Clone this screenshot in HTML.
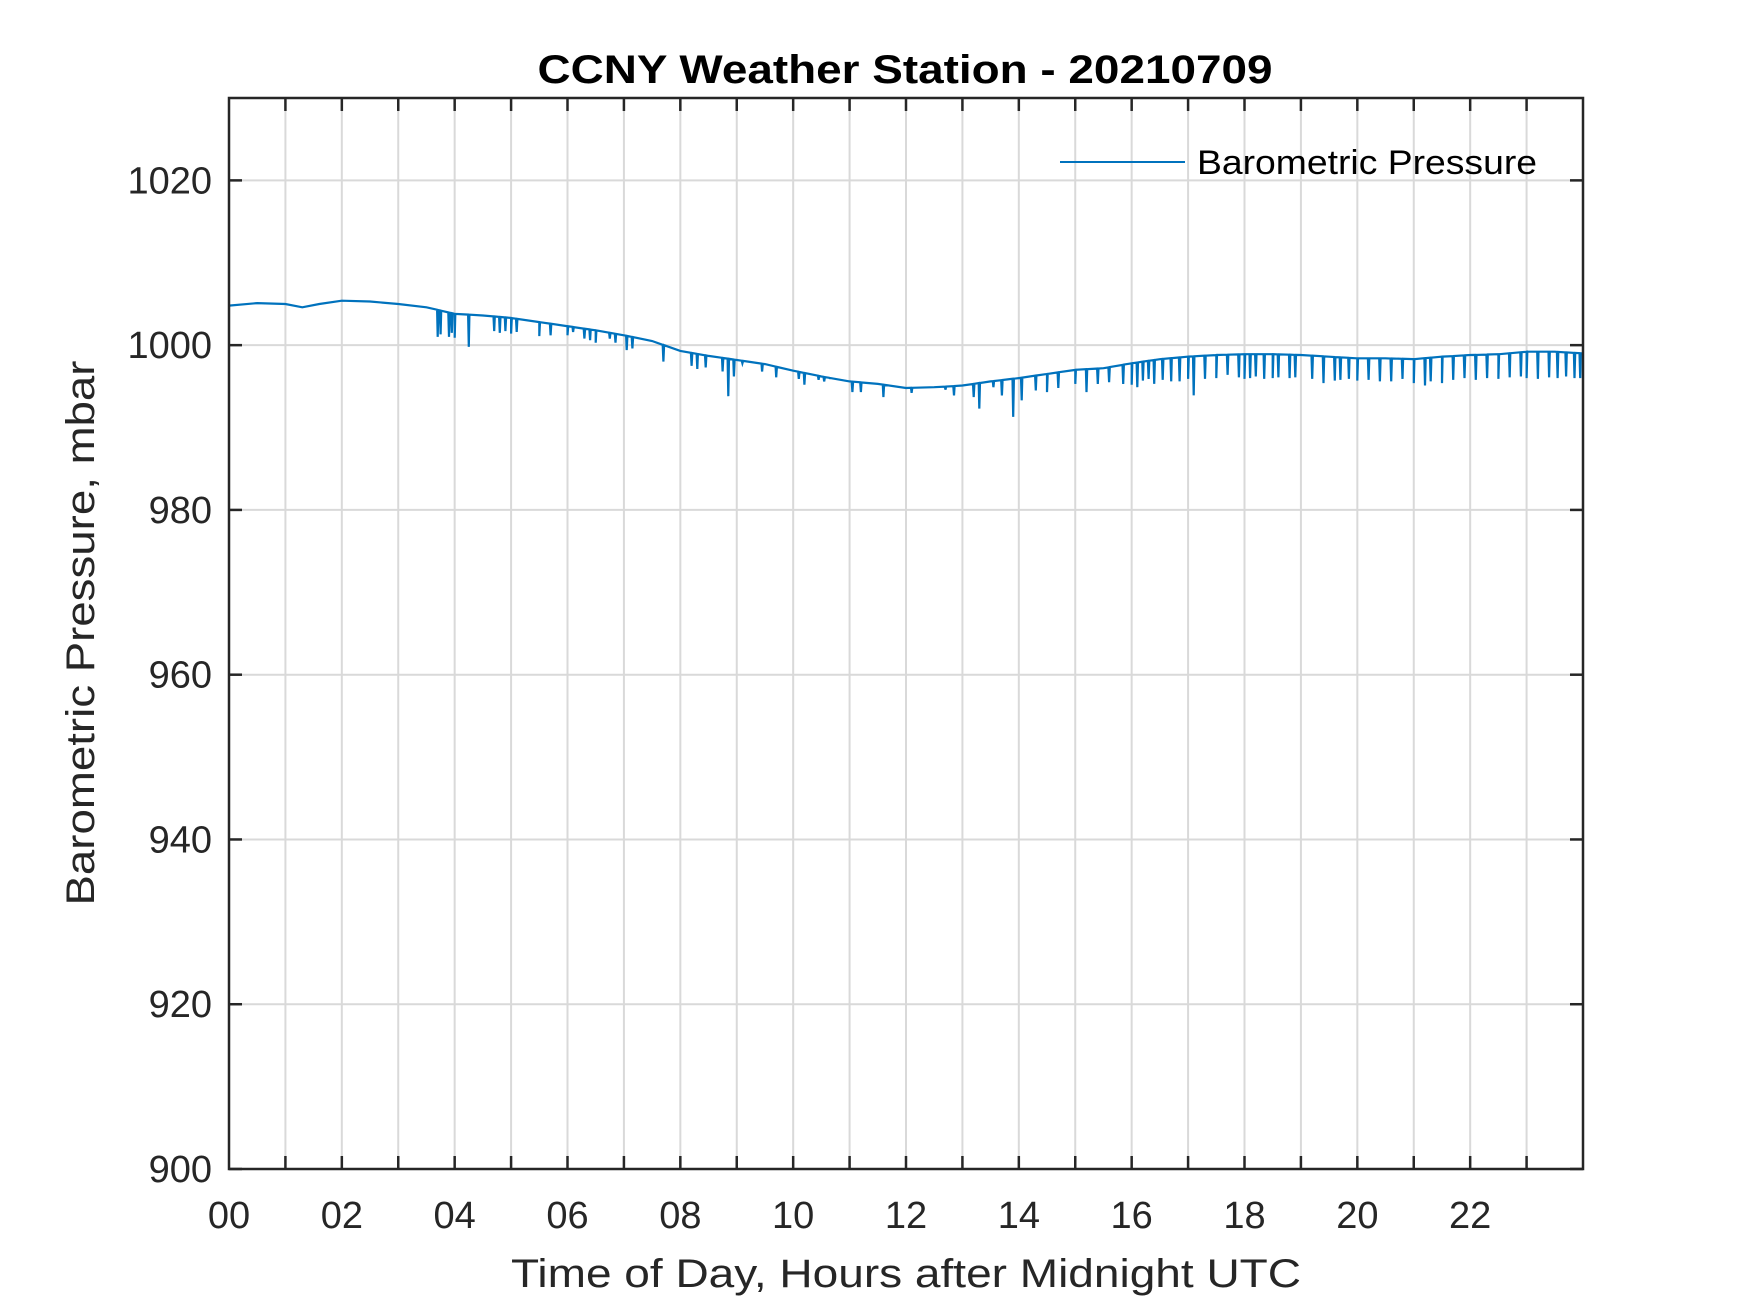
<!DOCTYPE html>
<html>
<head>
<meta charset="utf-8">
<style>
  html,body{margin:0;padding:0;background:#fff;}
  svg{display:block;}
  text{font-family:"Liberation Sans",Arial,sans-serif;}
</style>
</head>
<body>
<svg id="chart" width="1750" height="1313" viewBox="0 0 1750 1313" xmlns="http://www.w3.org/2000/svg">
  <rect x="0" y="0" width="1750" height="1313" fill="#fff"/>
  <g id="grid"></g>
  <g id="series"></g>
  <g id="axes"></g>
  <text x="905" y="83" text-anchor="middle" font-size="40" font-weight="bold" fill="#000" textLength="735" lengthAdjust="spacingAndGlyphs">CCNY Weather Station - 20210709</text>
  <text x="906" y="1287" text-anchor="middle" font-size="40" fill="#262626" textLength="790" lengthAdjust="spacingAndGlyphs">Time of Day, Hours after Midnight UTC</text>
  <text transform="translate(94,633) rotate(-90)" text-anchor="middle" font-size="40" fill="#262626" textLength="545" lengthAdjust="spacingAndGlyphs">Barometric Pressure, mbar</text>
  <g>
    <line x1="1060" y1="162" x2="1185" y2="162" stroke="#0072BD" stroke-width="2"/>
    <text x="1197" y="174" font-size="34" fill="#000" textLength="340" lengthAdjust="spacingAndGlyphs">Barometric Pressure</text>
  </g>
</svg>
<script>
// ---- data ----
const baseHours  = [0, 0.5, 1.0, 1.3, 1.6, 2.0, 2.5, 3.0, 3.5, 4.0, 4.5, 5.0, 5.5, 6.0, 6.5, 7.0, 7.5, 8.0, 8.5, 9.0, 9.5, 10.0, 10.5, 11.0, 11.5, 12.0, 12.5, 13.0, 13.5, 14.0, 14.5, 15.0, 15.5, 16.0, 16.5, 17.0, 17.5, 18.0, 18.5, 19.0, 19.5, 20.0, 20.5, 21.0, 21.5, 22.0, 22.5, 23.0, 23.5, 24.0];
const baseValues = [1004.8, 1005.1, 1005.0, 1004.6, 1005.0, 1005.4, 1005.3, 1005.0, 1004.6, 1003.8, 1003.6, 1003.3, 1002.8, 1002.3, 1001.8, 1001.2, 1000.5, 999.3, 998.7, 998.2, 997.7, 996.9, 996.2, 995.6, 995.3, 994.8, 994.9, 995.1, 995.6, 996.0, 996.5, 997.0, 997.2, 997.8, 998.3, 998.6, 998.8, 998.9, 998.9, 998.8, 998.6, 998.4, 998.4, 998.3, 998.6, 998.8, 998.9, 999.2, 999.2, 999.0];
const dipHours  = [3.7, 3.75, 3.9, 3.95, 4.0, 4.25, 4.7, 4.8, 4.9, 5.0, 5.1, 5.5, 5.7, 6.0, 6.1, 6.3, 6.4, 6.5, 6.75, 6.85, 7.05, 7.15, 7.7, 8.2, 8.3, 8.45, 8.75, 8.85, 8.95, 9.1, 9.45, 9.7, 10.1, 10.2, 10.45, 10.55, 10.65, 11.05, 11.2, 11.6, 12.1, 12.7, 12.85, 13.2, 13.3, 13.55, 13.7, 13.9, 14.05, 14.3, 14.5, 14.7, 15.0, 15.2, 15.4, 15.6, 15.85, 16.0, 16.1, 16.2, 16.3, 16.4, 16.55, 16.7, 16.85, 17.0, 17.1, 17.3, 17.5, 17.7, 17.9, 18.0, 18.1, 18.2, 18.35, 18.5, 18.6, 18.8, 18.9, 19.2, 19.4, 19.6, 19.7, 19.85, 20.0, 20.2, 20.4, 20.6, 20.8, 21.0, 21.2, 21.3, 21.5, 21.7, 21.9, 22.1, 22.3, 22.5, 22.7, 22.9, 23.0, 23.2, 23.4, 23.55, 23.7, 23.85, 23.95];
const dipValues = [1001.0, 1001.3, 1001.0, 1001.5, 1000.9, 999.8, 1001.7, 1001.5, 1001.7, 1001.4, 1001.6, 1001.1, 1001.2, 1001.2, 1001.6, 1000.8, 1000.6, 1000.3, 1000.8, 1000.3, 999.4, 999.6, 998.0, 997.5, 997.1, 997.3, 996.8, 993.8, 996.2, 997.8, 996.8, 996.1, 995.9, 995.2, 995.8, 995.6, 996.0, 994.3, 994.3, 993.7, 994.2, 994.6, 993.9, 993.7, 992.3, 994.9, 993.9, 991.3, 993.3, 994.5, 994.3, 994.8, 995.3, 994.3, 995.3, 995.5, 995.3, 995.2, 994.9, 995.7, 995.9, 995.3, 995.8, 995.6, 995.6, 995.9, 993.9, 995.9, 996.0, 996.4, 996.1, 995.9, 996.0, 996.2, 995.9, 996.0, 996.1, 996.0, 996.1, 995.9, 995.4, 995.7, 995.8, 995.9, 995.7, 995.8, 995.6, 995.6, 995.9, 995.4, 995.1, 995.6, 995.4, 995.8, 996.0, 995.8, 996.0, 995.9, 996.1, 996.2, 996.0, 995.9, 996.1, 996.0, 996.2, 996.0, 996.0];
const yTicks = [900, 920, 940, 960, 980, 1000, 1020];
const xTickLabels = ["00","02","04","06","08","10","12","14","16","18","20","22"];

// ---- axes geometry ----
const L = 229, R = 1583, T = 98, B = 1169;
const xMin = 0, xMax = 24, yMin = 900, yMax = 1030;
function xs(h){ return L + (h - xMin) / (xMax - xMin) * (R - L); }
function ys(v){ return B - (v - yMin) / (yMax - yMin) * (B - T); }
const NS = "http://www.w3.org/2000/svg";
function mk(tag, attrs, parent){
  const e = document.createElementNS(NS, tag);
  for (const k in attrs) e.setAttribute(k, attrs[k]);
  parent.appendChild(e);
  return e;
}
const grid = document.getElementById('grid');
const axes = document.getElementById('axes');
const series = document.getElementById('series');

for (let h = 1; h < 24; h++){
  const l = mk('line', {x1: xs(h), x2: xs(h), y1: T, y2: B, stroke: '#d9d9d9', 'stroke-width': 2}, grid);
  
  
}
yTicks.forEach(v => {
  if (v === yMin) return;
  const l = mk('line', {x1: L, x2: R, y1: ys(v), y2: ys(v), stroke: '#d9d9d9', 'stroke-width': 2}, grid);
  
  
});

function baseAt(h){
  for (let i = 0; i < baseHours.length - 1; i++){
    if (h >= baseHours[i] && h <= baseHours[i+1]){
      const t = (h - baseHours[i]) / (baseHours[i+1] - baseHours[i]);
      return baseValues[i] + t * (baseValues[i+1] - baseValues[i]);
    }
  }
  return baseValues[baseValues.length - 1];
}
const pts = [];
baseHours.forEach((h, i) => pts.push([h, baseValues[i]]));
const eps = 0.012;
dipHours.forEach((h, i) => {
  pts.push([h - eps, baseAt(h - eps)]);
  pts.push([h, dipValues[i]]);
  pts.push([h + eps, baseAt(h + eps)]);
});
pts.sort((a, b) => a[0] - b[0]);
const d = pts.map((p, i) => (i ? 'L' : 'M') + xs(Math.max(0, Math.min(24, p[0]))).toFixed(1) + ',' + ys(p[1]).toFixed(1)).join(' ');
const path = mk('path', {d: d, fill: 'none', stroke: '#0072BD', 'stroke-width': 2.2, 'stroke-linejoin': 'miter'}, series);



const box = mk('rect', {x: L, y: T, width: R - L, height: B - T, fill: 'none', stroke: '#262626', 'stroke-width': 2.5}, axes);



for (let h = 1; h < 24; h++){
  const t1 = mk('line', {x1: xs(h), x2: xs(h), y1: B, y2: B - 13, stroke: '#262626', 'stroke-width': 2.5}, axes);
  
  
  const t2 = mk('line', {x1: xs(h), x2: xs(h), y1: T, y2: T + 13, stroke: '#262626', 'stroke-width': 2.5}, axes);
  
  
}
xTickLabels.forEach((lab, i) => {
  const t = mk('text', {x: xs(i * 2), y: 1228, 'text-anchor': 'middle', 'font-size': 38, fill: '#262626'}, axes);
  t.textContent = lab;
  
  
});
yTicks.forEach(v => {
  const a = mk('line', {x1: L, x2: L + 13, y1: ys(v), y2: ys(v), stroke: '#262626', 'stroke-width': 2.5}, axes);
  
  
  const b = mk('line', {x1: R, x2: R - 13, y1: ys(v), y2: ys(v), stroke: '#262626', 'stroke-width': 2.5}, axes);
  
  
  const t = mk('text', {x: 212, y: ys(v) + 13, 'text-anchor': 'end', 'font-size': 38, fill: '#262626'}, axes);
  t.textContent = v;
  
  
});
</script>
</body>
</html>
